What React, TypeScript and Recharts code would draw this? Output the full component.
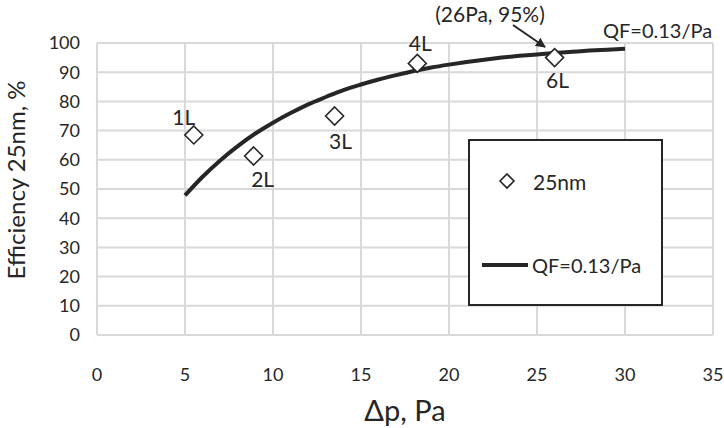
import { ComposedChart, Line, Scatter, XAxis, YAxis, CartesianGrid, LabelList } from 'recharts';

const xTicks = [0, 5, 10, 15, 20, 25, 30, 35];
const yTicks = [0, 10, 20, 30, 40, 50, 60, 70, 80, 90, 100];

// measured points (25nm)
const layerNames = ['1L', '2L', '3L', '4L', '6L'];
const layerDp = [5.5, 8.9, 13.5, 18.2, 26];
const layerEff = [68.5, 61.3, 75, 93, 95];

// QF = 0.13/Pa curve
const curveDp = [5, 6, 7, 8, 9, 10, 11, 12, 13, 14, 15, 16, 17, 18, 19, 20, 21, 22, 23, 24, 25, 26, 27, 28, 29, 30];
const curveEff = [47.8, 54.2, 59.8, 64.7, 69, 72.7, 76, 79, 81.5, 83.9, 85.8, 87.5, 89, 90.4, 91.6, 92.6, 93.5, 94.3, 95, 95.6, 96.1, 96.6, 97, 97.4, 97.7, 98];

const points = layerNames.map((name, i) => ({ name, x: layerDp[i], y: layerEff[i] }));
const curve = curveDp.map((x, i) => ({ x, y: curveEff[i] }));

const FONT = 'Lato, "Open Sans", sans-serif';
const INK = '#262626';

// label offsets around each diamond
const labelOffset: Record<string, [number, number]> = {
  '1L': [-10, -18],
  '2L': [9, 22],
  '3L': [6, 24],
  '4L': [3, -21],
  '6L': [3, 22],
};

const Diamond = (props: any) => {
  const { cx, cy } = props;
  const r = 9;
  return (
    <path
      d={`M${cx},${cy - r}L${cx + r},${cy}L${cx},${cy + r}L${cx - r},${cy}Z`}
      fill="#fff"
      stroke={INK}
      strokeWidth={1.6}
    />
  );
};

const PointLabel = (props: any) => {
  const { x, y, width, height, value } = props;
  const [dx, dy] = labelOffset[value] || [0, -15];
  return (
    <text
      x={x + width / 2 + dx}
      y={y + height / 2 + dy}
      textAnchor="middle"
      dominantBaseline="central"
      fontSize={21}
      fontFamily={FONT}
      fill={INK}
    >
      {value}
    </text>
  );
};

export default function App() {
  return (
    <div style={{ position: 'fixed', left: 0, top: 0, width: 724, height: 428, background: '#fff', fontFamily: FONT }}>
      <ComposedChart width={724} height={428} margin={{ top: 43, right: 11, bottom: 0, left: 0 }}>
        <CartesianGrid stroke="#d9d9d9" strokeWidth={2} />
        <XAxis
          type="number"
          dataKey="x"
          domain={[0, 35]}
          ticks={xTicks}
          axisLine={false}
          tickLine={false}
          tickSize={0}
          tickMargin={33}
          height={93}
          tick={{ fill: INK, fontSize: 18, fontFamily: FONT }}
          label={{ value: 'Δp, Pa', position: 'insideBottom', offset: 7, fill: INK, fontSize: 29, fontFamily: FONT }}
        />
        <YAxis
          type="number"
          dataKey="y"
          domain={[0, 100]}
          ticks={yTicks}
          axisLine={false}
          tickLine={false}
          tickSize={0}
          tickMargin={17}
          width={97}
          tick={{ fill: INK, fontSize: 18, fontFamily: FONT }}
        />
        <Line
          data={curve}
          dataKey="y"
          type="monotone"
          stroke={INK}
          strokeWidth={4}
          dot={false}
          activeDot={false}
          isAnimationActive={false}
        />
        <Scatter data={points} dataKey="y" shape={<Diamond />} isAnimationActive={false}>
          <LabelList dataKey="name" content={<PointLabel />} />
        </Scatter>
      </ComposedChart>

      {/* axis title and annotations */}
      <svg width={724} height={428} style={{ position: 'absolute', left: 0, top: 0, pointerEvents: 'none' }}>
        <defs>
          <marker id="ah" viewBox="0 0 10 10" refX="9" refY="5" markerWidth="5" markerHeight="5" orient="auto">
            <path d="M0,0L10,5L0,10Z" fill={INK} />
          </marker>
        </defs>
        <text
          x={15}
          y={180}
          transform="rotate(-90 15 180)"
          textAnchor="middle"
          dominantBaseline="central"
          fontSize={24}
          fontFamily={FONT}
          fill={INK}
        >
          Efficiency 25nm, %
        </text>
        <text x={490} y={13} textAnchor="middle" dominantBaseline="central" fontSize={21} fontFamily={FONT} fill={INK}>
          (26Pa, 95%)
        </text>
        <line x1={513} y1={25} x2={545} y2={47} stroke={INK} strokeWidth={2} markerEnd="url(#ah)" />
        <text x={603} y={30} dominantBaseline="central" fontSize={20} fontFamily={FONT} fill={INK}>
          QF=0.13/Pa
        </text>
      </svg>

      {/* legend */}
      <div
        style={{
          position: 'absolute',
          left: 468,
          top: 139,
          width: 191,
          height: 163,
          border: `2px solid ${INK}`,
          background: '#fff',
        }}
      >
        <svg width={191} height={163}>
          <path d="M37,33L44,40L37,47L30,40Z" fill="#fff" stroke={INK} strokeWidth={1.6} />
          <text x={63} y={40} dominantBaseline="central" fontSize={21} fontFamily={FONT} fill={INK}>
            25nm
          </text>
          <line x1={12} y1={124} x2={58} y2={124} stroke={INK} strokeWidth={4} />
          <text x={62} y={124} dominantBaseline="central" fontSize={20} fontFamily={FONT} fill={INK}>
            QF=0.13/Pa
          </text>
        </svg>
      </div>
    </div>
  );
}
